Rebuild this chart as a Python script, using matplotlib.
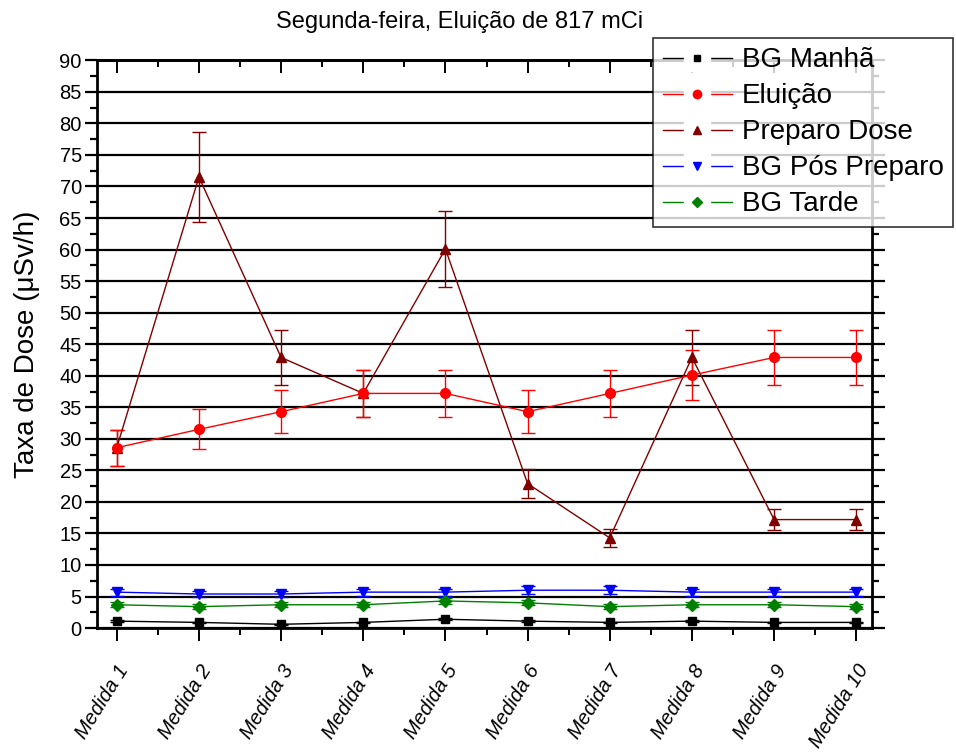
import numpy as np
import matplotlib
matplotlib.use('Agg')
import matplotlib.pyplot as plt
from matplotlib.lines import Line2D
from matplotlib.legend_handler import HandlerTuple

plt.rcParams['font.family'] = ['Liberation Sans', 'DejaVu Sans']

# Data
medidas    = ['Medida 1', 'Medida 2', 'Medida 3', 'Medida 4', 'Medida 5',
              'Medida 6', 'Medida 7', 'Medida 8', 'Medida 9', 'Medida 10']
bg_manha   = [1.1, 0.9, 0.6, 0.9, 1.4, 1.1, 0.9, 1.1, 0.9, 0.9]
eluicao    = [28.6, 31.5, 34.3, 37.2, 37.2, 34.3, 37.2, 40.1, 42.9, 42.9]
preparo    = [28.6, 71.5, 42.9, 37.2, 60.1, 22.9, 14.3, 42.9, 17.2, 17.2]
bg_pos     = [5.7, 5.4, 5.4, 5.7, 5.7, 6.0, 6.0, 5.7, 5.7, 5.7]
bg_tarde   = [3.7, 3.4, 3.7, 3.7, 4.3, 4.0, 3.4, 3.7, 3.7, 3.4]
rel_err    = 0.10   # 10 % error bars

names   = ['BG Manhã', 'Eluição', 'Preparo Dose', 'BG Pós Preparo', 'BG Tarde']
series  = [bg_manha, eluicao, preparo, bg_pos, bg_tarde]
colours = ['black', '#ff0000', '#800000', '#0000ff', '#008000']
markers = ['s', 'o', '^', 'v', 'D']
msizes  = [6, 7, 7, 7, 6]

fig = plt.figure(figsize=(9.56, 7.54), dpi=100)
ax = fig.add_axes([0.1015, 0.167, 0.8105, 0.753])

x = np.arange(1, len(medidas) + 1)

# horizontal grid lines every 5
for yv in range(0, 91, 5):
    ax.axhline(yv, color='black', lw=1.6, zorder=1)

order = [2, 1, 3, 4, 0]
for i in order:
    vals = np.array(series[i])
    ax.errorbar(x, vals, yerr=vals * rel_err, color=colours[i], lw=1.0,
                marker=markers[i], ms=msizes[i], capsize=5, capthick=1.0,
                elinewidth=1.0, zorder=3)

ax.set_xlim(0.76, 10.19)
ax.set_ylim(0, 90)
ax.set_yticks(np.arange(0, 91, 5))
ax.set_yticks(np.arange(2.5, 90, 5), minor=True)
ax.set_xticks(x)
ax.set_xticks(np.arange(1.5, 10.5, 1), minor=True)
ax.set_xticklabels(medidas, rotation=58, ha='right', va='top',
                   rotation_mode='anchor', style='italic', fontsize=14.5)
ax.tick_params(axis='y', labelsize=14.5, direction='out', width=1.6, length=9,
               right=True, pad=2)
ax.tick_params(axis='y', which='minor', direction='out', width=1.6, length=5,
               right=True)
ax.tick_params(axis='x', direction='out', width=1.4, length=9, top=False, pad=15)
ax.tick_params(axis='x', which='minor', direction='out', width=1.4, length=5,
               top=False)
# inward ticks on top
axt = ax.secondary_xaxis('top')
axt.set_xticks(x)
axt.set_xticks(np.arange(1.5, 10.5, 1), minor=True)
axt.set_xticklabels([])
axt.tick_params(direction='in', width=1.4, length=9)
axt.tick_params(which='minor', direction='in', width=1.4, length=5)
axt.spines['top'].set_linewidth(2)

for s in ax.spines.values():
    s.set_linewidth(2)

ax.set_ylabel('Taxa de Dose (μSv/h)', fontsize=20, labelpad=14)

fig.text(0.481, 0.971, 'Segunda-feira, Eluição de 817 mCi', ha='center',
         va='center', fontsize=17)

# legend: line - marker - line with a gap round the marker
handles = []
for i in range(5):
    ln = Line2D([], [], color=colours[i], lw=1.0)
    gap = Line2D([], [], ls='none', marker='s', ms=19, color='white',
                 mec='white')
    mk = Line2D([], [], ls='none', marker=markers[i], ms=msizes[i] - 1,
                color=colours[i])
    handles.append((ln, gap, mk))
leg = fig.legend(handles, names, handler_map={tuple: HandlerTuple(ndivide=1)},
                 loc='upper left', bbox_to_anchor=(0.683, 0.950),
                 fontsize=20, frameon=True, fancybox=False, handlelength=2.5,
                 handletextpad=0.35, labelspacing=0.36, borderpad=0.35,
                 borderaxespad=0)
leg.get_frame().set_edgecolor('black')
leg.get_frame().set_linewidth(1.2)
leg.set_zorder(10)

fig.savefig('out.png', dpi=100)
